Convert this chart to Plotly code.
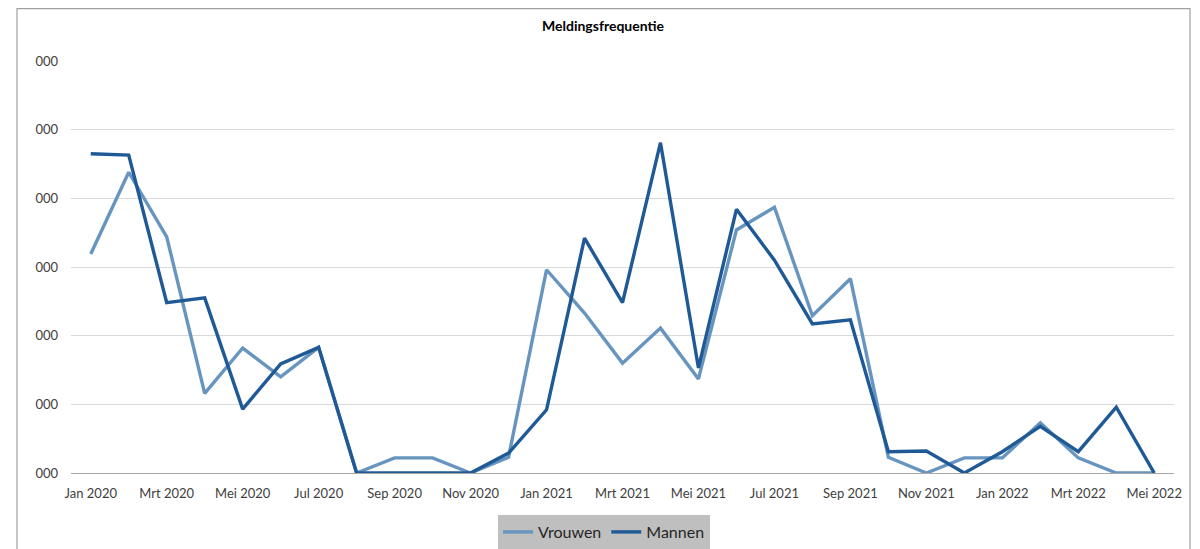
import plotly.graph_objects as go

months = ["Jan 2020", "Feb 2020", "Mrt 2020", "Apr 2020", "Mei 2020", "Jun 2020", "Jul 2020",
          "Aug 2020", "Sep 2020", "Okt 2020", "Nov 2020", "Dec 2020",
          "Jan 2021", "Feb 2021", "Mrt 2021", "Apr 2021", "Mei 2021", "Jun 2021", "Jul 2021",
          "Aug 2021", "Sep 2021", "Okt 2021", "Nov 2021", "Dec 2021",
          "Jan 2022", "Feb 2022", "Mrt 2022", "Apr 2022", "Mei 2022"]

vrouwen = [3.19, 4.38, 3.44, 1.16, 1.82, 1.40, 1.83, 0.0, 0.22, 0.22, 0.0, 0.23,
           2.96, 2.33, 1.60, 2.11, 1.37, 3.54, 3.87, 2.29, 2.83, 0.23, 0.0, 0.22,
           0.22, 0.73, 0.22, 0.0, 0.0]
mannen = [4.65, 4.63, 2.48, 2.55, 0.93, 1.59, 1.83, 0.0, 0.0, 0.0, 0.0, 0.29,
          0.92, 3.42, 2.48, 4.81, 1.53, 3.84, 3.10, 2.17, 2.23, 0.31, 0.32, 0.0,
          0.31, 0.68, 0.31, 0.96, 0.0]

y_tickvals = [0, 1, 2, 3, 4, 5, 6]
y_ticktext = ["000", "000", "000", "000", "000", "000", "000"]

x_idx = list(range(len(months)))
x_tickvals = x_idx[::2]
x_ticktext = months[::2]

font_family = "Lato, 'Open Sans', sans-serif"

# page body has an 8px margin, so the figure is offset by (8, 8)
OFF = 8
W, H = 1200 - OFF, 549 - OFF
L, T, PW, PH = 71 - OFF, 61 - OFF, 1103, 412
R, B = W - L - PW, H - T - PH


def px(xp):
    return (xp - OFF - L) / PW


def py(yp):
    return (T + PH - (yp - OFF)) / PH


fig = go.Figure()
fig.add_trace(go.Scatter(x=x_idx, y=vrouwen, mode="lines", name="Vrouwen",
                         line=dict(color="#6795BF", width=3.4)))
fig.add_trace(go.Scatter(x=x_idx, y=mannen, mode="lines", name="Mannen",
                         line=dict(color="#1F5A96", width=3.4)))

fig.update_layout(
    width=W, height=H,
    margin=dict(l=L, r=R, t=T, b=B, autoexpand=False),
    paper_bgcolor="white", plot_bgcolor="white",
    font=dict(family=font_family, size=13, color="#404040"),
    title=dict(text="<b>Meldingsfrequentie</b>", x=px(603), xref="paper", xanchor="center",
               y=1 - (26 - OFF) / H, yanchor="middle",
               font=dict(size=14, color="#000000", family=font_family)),
    showlegend=True,
    legend=dict(orientation="h", x=px(604), xanchor="center", y=py(532), yanchor="middle",
                bgcolor="#BFBFBF", font=dict(size=16, color="#262626"), itemwidth=30,
                tracegroupgap=0),
    xaxis=dict(range=[-0.52, 28.52], tickmode="array", tickvals=x_tickvals, ticktext=x_ticktext,
               showgrid=False, zeroline=False, showline=True, linecolor="#A6A6A6", linewidth=1,
               ticks="", ticklabelstandoff=8, tickfont=dict(size=13, color="#404040"),
               fixedrange=True, automargin=False),
    yaxis=dict(range=[0, 6], tickmode="array", tickvals=y_tickvals, ticktext=y_ticktext,
               showgrid=True, gridcolor="#D9D9D9", gridwidth=1, zeroline=False, showline=False,
               ticks="", ticklabelstandoff=12, tickfont=dict(size=13, color="#404040"), fixedrange=True,
               automargin=False),
)

# outer chart frame
fig.add_shape(type="rect", xref="paper", yref="paper",
              x0=px(17), x1=px(1190),
              y0=py(560), y1=py(OFF + 0.7),
              line=dict(color="#A0A0A0", width=1.2), fillcolor="rgba(0,0,0,0)", layer="below")

fig.write_html("out.html")
